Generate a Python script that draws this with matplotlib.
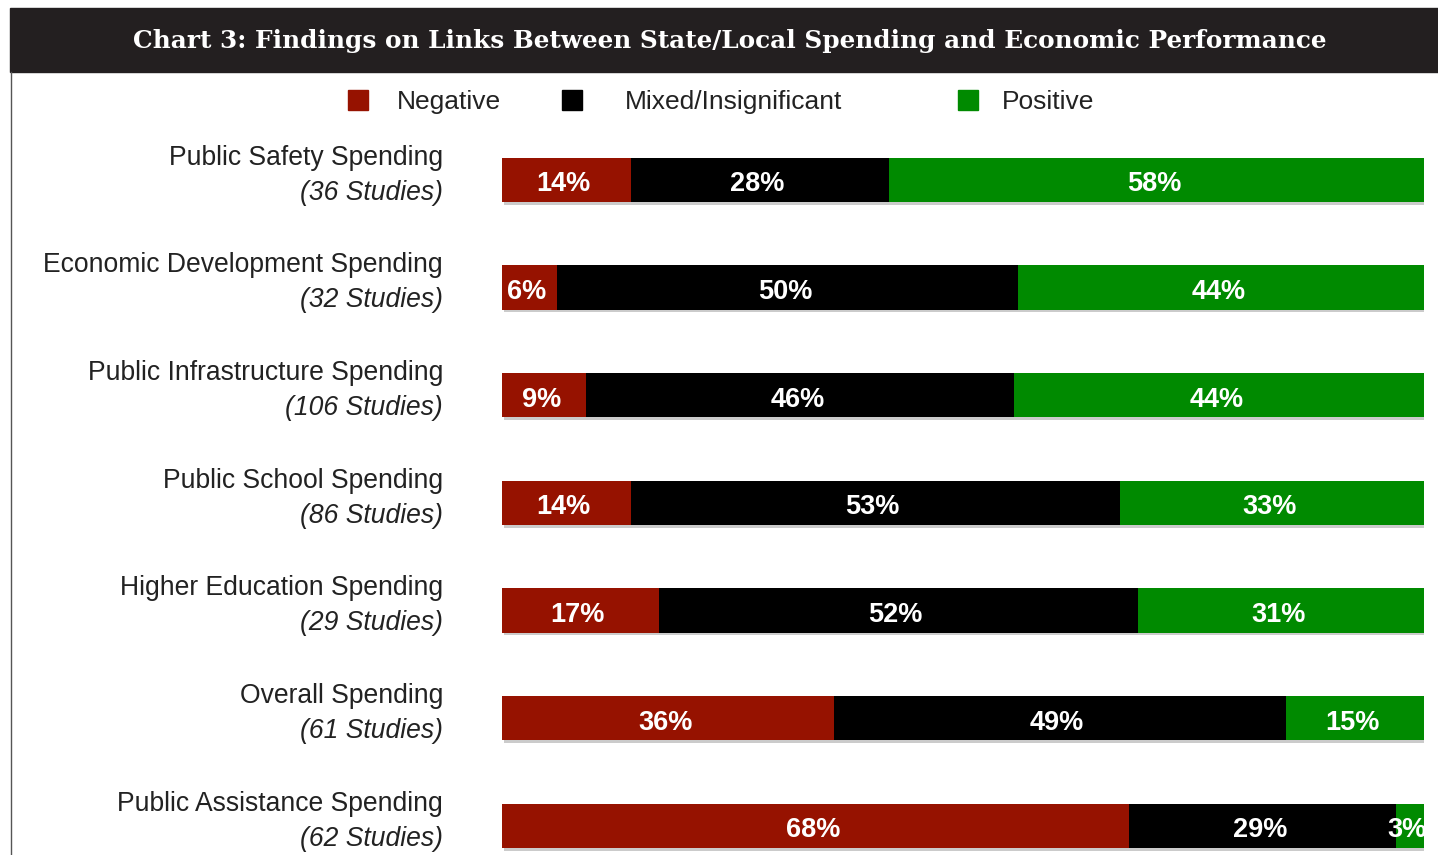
import matplotlib
matplotlib.use("Agg")
import matplotlib.pyplot as plt
import matplotlib.patheffects as pe
from matplotlib.patches import Rectangle
from matplotlib.lines import Line2D

# ==========================
# Data
# ==========================
categories = [
    "Public Safety Spending",
    "Economic Development Spending",
    "Public Infrastructure Spending",
    "Public School Spending",
    "Higher Education Spending",
    "Overall Spending",
    "Public Assistance Spending",
]
studies = ["(36 Studies)", "(32 Studies)", "(106 Studies)", "(86 Studies)",
           "(29 Studies)", "(61 Studies)", "(62 Studies)"]
negative = [14, 6, 9, 14, 17, 36, 68]
mixed = [28, 50, 46, 53, 52, 49, 29]
positive = [58, 44, 44, 33, 31, 15, 3]

series_names = ["Negative", "Mixed/Insignificant", "Positive"]
colors = ["#961200", "#000000", "#008a00"]

W, H = 1438, 855
fig = plt.figure(figsize=(W / 100, H / 100), dpi=100)

# ==========================
# Title bar
# ==========================
fig.patches.append(Rectangle((10 / W, 1 - 72 / H), 1 - 10 / W, 64 / H,
                             transform=fig.transFigure, color="#231f20", zorder=0))
fig.text(730 / W, 1 - 41 / H,
         "Chart 3: Findings on Links Between State/Local Spending and Economic Performance",
         ha="center", va="center", color="white", fontsize=17.8,
         fontweight="bold", family="DejaVu Serif")
fig.lines.append(Line2D([10.5 / W, 10.5 / W], [0, 1 - 72 / H],
                        transform=fig.transFigure, color="#555555", lw=1))

# ==========================
# Legend
# ==========================
leg_box_x = [358, 572, 968]
leg_text_x = [397, 625, 1002]
for name, c, bx, tx in zip(series_names, colors, leg_box_x, leg_text_x):
    fig.patches.append(Rectangle(((bx - 10) / W, 1 - 110 / H), 20 / W, 20 / H,
                                 transform=fig.transFigure, color=c))
    fig.text(tx / W, 1 - 102 / H, name, ha="left", va="center",
             fontsize=19, color="#222222", family="Liberation Sans")

# ==========================
# Bars (each row scaled to full width)
# ==========================
ax = fig.add_axes([502 / W, 0, (1424 - 502) / W, (855 - 126) / H])
ax.set_xlim(0, 100)
ax.set_ylim(6.27, -0.5)
ax.axis("off")

rows = list(range(len(categories)))
totals = [n + m + p for n, m, p in zip(negative, mixed, positive)]
shadow = [pe.SimplePatchShadow(offset=(1.5, -2), shadow_rgbFace="#999999", alpha=0.5), pe.Normal()]
left = [0] * len(rows)
for vals, c in zip([negative, mixed, positive], colors):
    widths = [v * 100 / t for v, t in zip(vals, totals)]
    bars = ax.barh(rows, widths, left=left, height=0.41, color=c, zorder=2)
    for b in bars:
        b.set_path_effects(shadow)
    for i, v in enumerate(vals):
        xc = left[i] + widths[i] / 2 - 0.3
        if v < 5:
            xc = left[i] + widths[i] - 1.8
        ax.text(xc, i + 0.04, f"{v}%", ha="center", va="center", color="white",
                fontsize=19.5, fontweight="bold", family="Liberation Sans", zorder=3)
    left = [l + w for l, w in zip(left, widths)]

# ==========================
# Category labels
# ==========================
for i, (cat, st) in enumerate(zip(categories, studies)):
    ax.text(-6.4, i - 0.205, cat, ha="right", va="center", fontsize=19.1,
            color="#222222", family="Liberation Sans", clip_on=False)
    ax.text(-6.4, i + 0.12, st, ha="right", va="center", fontsize=19.1,
            color="#222222", style="italic", family="Liberation Sans", clip_on=False)

fig.savefig("out.png", dpi=100, facecolor="white")
